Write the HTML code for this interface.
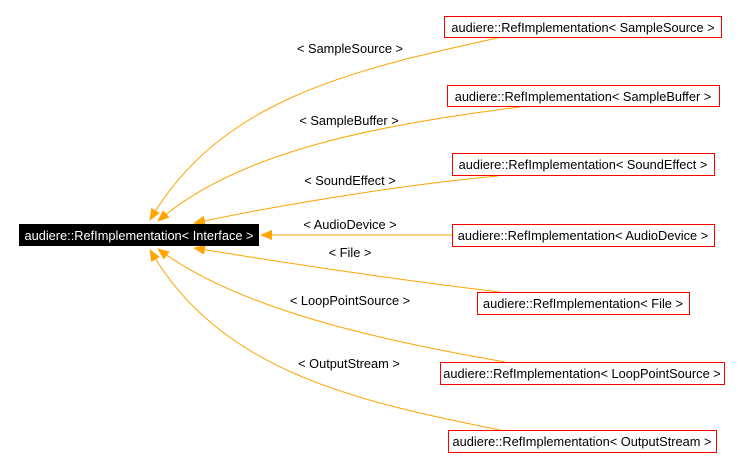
<!DOCTYPE html>
<html><head><style>body{margin:0;background:#fff}svg{display:block}text{font-family:"Liberation Sans",sans-serif;font-size:12.8px}</style></head>
<body>
<svg width="743" height="473" viewBox="0 0 743 473" xmlns="http://www.w3.org/2000/svg">
<defs><marker id="a" markerWidth="12" markerHeight="10" refX="11" refY="5" orient="auto" markerUnits="userSpaceOnUse"><path d="M0,0 L12,5 L0,10 z" fill="#ffa500"/></marker></defs>
<g fill="none" stroke="#ffa500" stroke-width="1">
<path d="M502,37 C350,70 220,100 150,220" marker-end="url(#a)"/>
<path d="M520,107 C380,125 240,150 158,221" marker-end="url(#a)"/>
<path d="M498,176 C400,185 280,205 194,223" marker-end="url(#a)"/>
<path d="M452,235 L261,235" marker-end="url(#a)"/>
<path d="M500,292 C400,280 280,262 194,248" marker-end="url(#a)"/>
<path d="M505,362 C380,340 240,310 158,249" marker-end="url(#a)"/>
<path d="M500,430 C350,400 220,370 150,250" marker-end="url(#a)"/>
</g>
<rect x="19" y="224" width="240" height="22" fill="#000"/>
<text x="139" y="240" fill="#fff" text-anchor="middle">audiere::RefImplementation&lt; Interface &gt;</text>
<g fill="#fff" stroke="#ff0000" stroke-width="1">
<rect x="444.5" y="16.5" width="277" height="21"/>
<rect x="447.5" y="85.5" width="272" height="21"/>
<rect x="452.5" y="153.5" width="262" height="22"/>
<rect x="452.5" y="224.5" width="262" height="22"/>
<rect x="477.5" y="292.5" width="212" height="22"/>
<rect x="440.5" y="362.5" width="284" height="22"/>
<rect x="448.5" y="430.5" width="268" height="22"/>
</g>
<g fill="#000" text-anchor="middle">
<text x="583" y="32">audiere::RefImplementation&lt; SampleSource &gt;</text>
<text x="583" y="101">audiere::RefImplementation&lt; SampleBuffer &gt;</text>
<text x="583" y="169">audiere::RefImplementation&lt; SoundEffect &gt;</text>
<text x="583" y="240">audiere::RefImplementation&lt; AudioDevice &gt;</text>
<text x="583" y="308">audiere::RefImplementation&lt; File &gt;</text>
<text x="582" y="378">audiere::RefImplementation&lt; LoopPointSource &gt;</text>
<text x="582" y="446">audiere::RefImplementation&lt; OutputStream &gt;</text>
<text x="350" y="53">&lt; SampleSource &gt;</text>
<text x="349" y="125">&lt; SampleBuffer &gt;</text>
<text x="350" y="185">&lt; SoundEffect &gt;</text>
<text x="350" y="229">&lt; AudioDevice &gt;</text>
<text x="350" y="257">&lt; File &gt;</text>
<text x="350" y="305">&lt; LoopPointSource &gt;</text>
<text x="349" y="368">&lt; OutputStream &gt;</text>
</g>
</svg>
</body></html>
